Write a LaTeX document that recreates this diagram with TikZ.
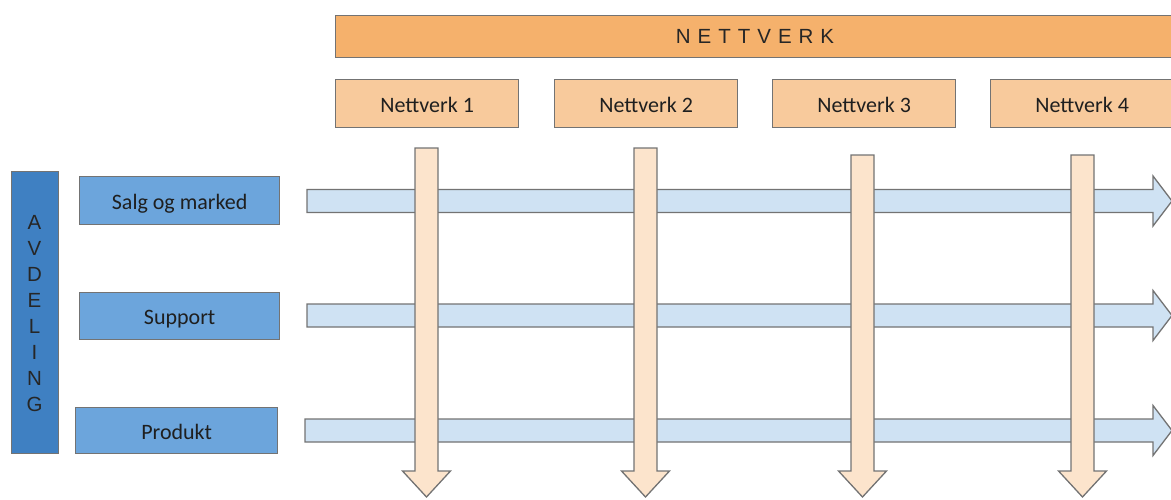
\documentclass[tikz,border=0pt]{standalone}
\usepackage{fontspec}
\setmainfont{Carlito}
\newfontfamily\capsfont{Liberation Sans}
\begin{document}
\begin{tikzpicture}[x=1pt,y=-1pt,
  edge/.style={draw=black!55, line width=1.3pt},
  bar/.style={edge, fill=#1, inner sep=0pt, anchor=north west},
  label/.style={font=\fontsize{22}{24}\selectfont, text=black!88, anchor=base, yshift=-8.5pt},
  caps/.style={font=\capsfont\fontsize{20.5}{22}\selectfont, text=black!85},
]
\definecolor{netmain}{HTML}{F5B16C}
\definecolor{netsub}{HTML}{F8CA9C}
\definecolor{deptmain}{HTML}{3F80C2}
\definecolor{deptsub}{HTML}{6CA5DC}
\definecolor{hfill}{HTML}{CFE2F3}
\definecolor{vfill}{HTML}{FCE4CC}
\useasboundingbox (0,0) rectangle (1171,499);
\clip (0,0) rectangle (1171,499);

% network header bar
\node[bar=netmain, minimum width=840pt, minimum height=42pt] (net) at (335,15) {};
\node[caps] (nettext) at (755,36)
  {N\kern7pt E\kern7pt T\kern7pt T\kern7pt V\kern7pt E\kern7pt R\kern7pt K};

% network boxes
\foreach \i/\x in {1/335,2/554,3/772,4/990} {
  \node[bar=netsub, minimum width=183pt, minimum height=48pt] (n\i) at (\x,79) {};
  \node[label] (n\i t) at (n\i.center) {Nettverk \i};
}

% department bar with stacked letters
\node[bar=deptmain, minimum width=47pt, minimum height=282pt] (avd) at (11,171) {};
\foreach \c [count=\k from 0] in {A,V,D,E,L,I,N,G} {
  \node[caps] (avd\k) at (34.5,222+26.1*\k) {\c};
}

% department boxes
\node[bar=deptsub, minimum width=200pt, minimum height=48pt] (d1) at (79,176) {};
\node[label] (d1t) at (d1.center) {Salg og marked};
\node[bar=deptsub, minimum width=200pt, minimum height=47pt] (d2) at (79,292) {};
\node[label] (d2t) at (d2.center) {Support};
\node[bar=deptsub, minimum width=202pt, minimum height=46pt] (d3) at (75,407) {};
\node[label] (d3t) at (d3.center) {Produkt};

% horizontal block arrows (left x, centre y)
\foreach \lx/\cy in {307/201, 307/315.5, 305/430.5} {
  \draw[edge, fill=hfill] (\lx,\cy-11.5) -- (1153,\cy-11.5) -- (1153,\cy-25)
    -- (1172,\cy) -- (1153,\cy+25) -- (1153,\cy+11.5) -- (\lx,\cy+11.5) -- cycle;
}

% vertical block arrows (centre x, top y), drawn over the horizontal ones
\foreach \cx/\ty in {426.5/148, 645.5/148, 862.5/155, 1082.5/155} {
  \draw[edge, fill=vfill] (\cx-11.5,\ty) -- (\cx+11.5,\ty) -- (\cx+11.5,471)
    -- (\cx+24,471) -- (\cx,497) -- (\cx-24,471) -- (\cx-11.5,471) -- cycle;
}
\end{tikzpicture}
\end{document}
